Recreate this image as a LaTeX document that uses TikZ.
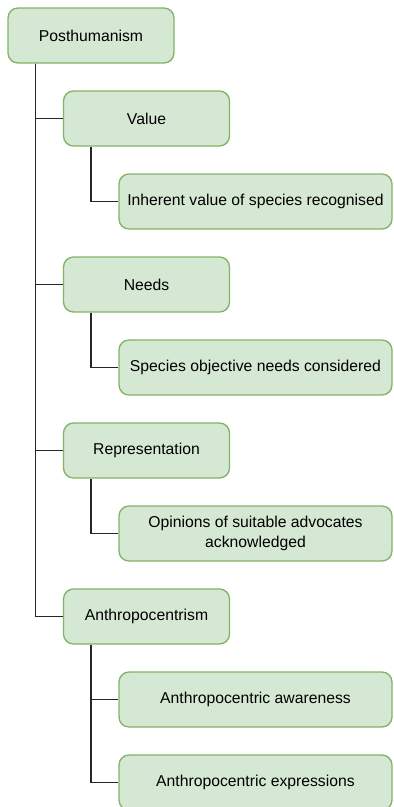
\documentclass[tikz,border=0pt]{standalone}
\usepackage{fontspec}
\setmainfont{Liberation Sans}
\usetikzlibrary{positioning}

\definecolor{boxfill}{HTML}{D5E8D4}
\definecolor{boxline}{HTML}{82B366}
\tikzset{
  box/.style={draw=boxline, fill=boxfill, line width=1pt,
    rounded corners=7.5pt, minimum height=41.25pt, align=center,
    font=\fontsize{11.8}{15}\selectfont},
  topbox/.style={box, minimum width=124.5pt},
  subbox/.style={box, minimum width=204.75pt},
  link/.style={line width=1.1pt, black!85}
}

\begin{document}
\begin{tikzpicture}[x=0.75pt,y=-0.75pt]
  \useasboundingbox (0,0) rectangle (393,807);
  % main topic
  \node[topbox] (posthum) at (91,35.5) {Posthumanism};
  % themes
  \node[topbox] (value) at (146.5,118.5) {Value};
  \node[topbox] (needs) at (146.5,284.5) {Needs};
  \node[topbox] (repres) at (146.5,450.5) {Representation};
  \node[topbox] (anthro) at (146.5,616.5) {Anthropocentrism};
  % codes
  \node[subbox] (inherent) at (255.5,201.5) {Inherent value of species recognised};
  \node[subbox] (objneeds) at (255.5,367.5) {Species objective needs considered};
  \node[subbox] (opinions) at (255.5,533.5) {Opinions of suitable advocates\\acknowledged};
  \node[subbox] (aware) at (255.5,699.5) {Anthropocentric awareness};
  \node[subbox] (express) at (255.5,782.5) {Anthropocentric expressions};
  % connectors
  \foreach \t in {value,needs,repres,anthro}
    \draw[link] ([xshift=21pt]posthum.south west) |- (\t.west);
  \draw[link] ([xshift=21pt]value.south west) |- (inherent.west);
  \draw[link] ([xshift=21pt]needs.south west) |- (objneeds.west);
  \draw[link] ([xshift=21pt]repres.south west) |- (opinions.west);
  \draw[link] ([xshift=21pt]anthro.south west) |- (aware.west);
  \draw[link] ([xshift=21pt]anthro.south west) |- (express.west);
\end{tikzpicture}
\end{document}
